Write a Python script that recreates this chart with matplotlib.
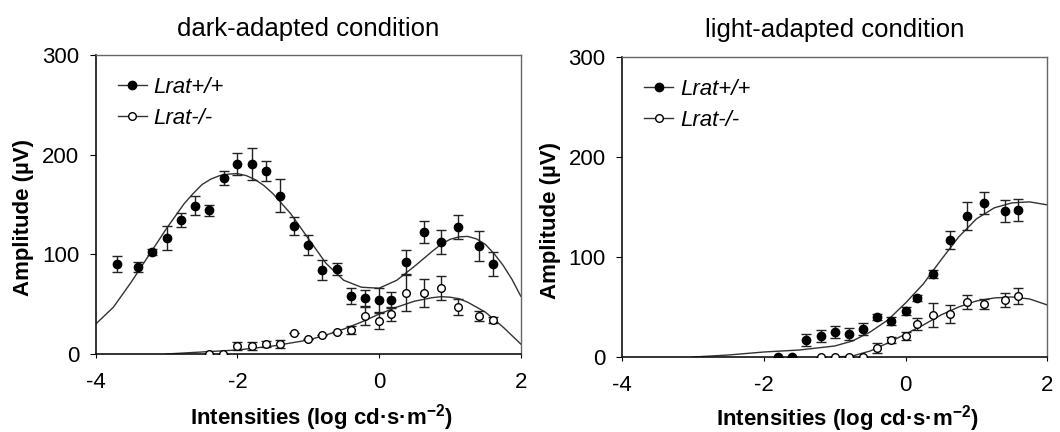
import numpy as np
import matplotlib
matplotlib.use("Agg")
import matplotlib.pyplot as plt
from matplotlib.lines import Line2D

plt.rcParams['font.family'] = ['Liberation Sans', 'DejaVu Sans']
plt.rcParams['mathtext.fontset'] = 'custom'
plt.rcParams['mathtext.rm'] = 'Liberation Sans:bold'
plt.rcParams['mathtext.bf'] = 'Liberation Sans:bold'
plt.rcParams['axes.unicode_minus'] = False

# ─── data ────────────────────────────────────────────────────────────────────
# dark-adapted, Lrat+/+
dark_wt_x = [-3.70, -3.40, -3.20, -3.00, -2.80, -2.60, -2.40, -2.19, -2.00, -1.80,
             -1.60, -1.40, -1.20, -1.00, -0.80, -0.60, -0.40, -0.20, 0.00, 0.17,
             0.38, 0.64, 0.88, 1.12, 1.41, 1.61]
dark_wt_y = [90, 87, 102, 116, 134, 149, 144, 177, 191, 191,
             184, 159, 128, 109, 84, 85, 58, 56, 54, 54,
             92, 122, 112, 127, 108, 90]
dark_wt_e = [8, 5, 3, 12, 7, 10, 6, 7, 11, 16,
             10, 17, 9, 10, 10, 6, 8, 8, 12, 8,
             12, 11, 12, 12, 15, 12]
# dark-adapted, Lrat-/-
dark_ko_x = [-2.40, -2.20, -2.00, -1.80, -1.60, -1.40, -1.20, -1.00, -0.80, -0.60,
             -0.40, -0.20, 0.00, 0.17, 0.38, 0.64, 0.88, 1.12, 1.41, 1.61]
dark_ko_y = [0, 0, 8, 8, 10, 10, 21, 15, 19, 22,
             24, 38, 33, 40, 61, 61, 66, 47, 38, 34]
dark_ko_e = [0, 0, 4, 4, 3, 4, 0, 0, 0, 0,
             4, 9, 8, 7, 18, 14, 12, 8, 5, 3]

# light-adapted, Lrat+/+
light_wt_x = [-1.80, -1.60, -1.40, -1.20, -1.00, -0.80, -0.60, -0.40, -0.20, 0.00,
              0.16, 0.38, 0.62, 0.87, 1.10, 1.40, 1.59]
light_wt_y = [0, 0, 17, 21, 25, 23, 28, 40, 36, 46,
              59, 83, 117, 141, 154, 146, 147]
light_wt_e = [0, 0, 6, 6, 6, 6, 6, 3, 4, 4,
              3, 4, 9, 14, 11, 11, 11]
# light-adapted, Lrat-/-
light_ko_x = [-1.20, -1.00, -0.80, -0.60, -0.40, -0.20, 0.00, 0.16, 0.38, 0.62,
              0.87, 1.10, 1.40, 1.59]
light_ko_y = [0, 0, 0, 0, 9, 17, 21, 33, 42, 43,
              55, 53, 57, 61]
light_ko_e = [0, 0, 0, 0, 5, 3, 4, 6, 12, 9,
              7, 5, 7, 8]

# fitted curves
fit_dark_wt_x = [-4.0, -3.75, -3.5, -3.25, -3.0, -2.75, -2.625, -2.5, -2.375, -2.25,
                 -2.125, -2.0, -1.875, -1.75, -1.625, -1.5, -1.25, -1.0, -0.75, -0.5,
                 -0.25, 0.0, 0.25, 0.5, 0.75, 0.875, 1.0, 1.125, 1.25, 1.375,
                 1.5, 1.625, 1.75, 1.875, 2.0]
fit_dark_wt_y = [30, 47, 72, 99, 126, 151, 161, 170, 175.5, 179,
                 180.5, 181, 179, 175, 169, 161, 141, 116, 91, 74,
                 67, 66, 74, 88, 103, 110, 115, 117.5, 118, 115.5,
                 110, 100.5, 89, 75, 58]
fit_dark_ko_x = [-3.0, -2.75, -2.5, -2.25, -2.0, -1.75, -1.5, -1.25, -1.0, -0.75,
                 -0.5, -0.25, 0.0, 0.25, 0.5, 0.75, 0.875, 1.0, 1.125, 1.25,
                 1.5, 1.75, 2.0]
fit_dark_ko_y = [0, 1, 2, 3, 4, 6, 8, 11, 14, 19,
                 25, 32, 40, 47, 53, 56.5, 57.5, 57, 55.5, 52,
                 42, 27, 10]
fit_light_wt_x = [-3.0, -2.5, -2.0, -1.5, -1.0, -0.75, -0.5, -0.25, 0.0, 0.25,
                  0.5, 0.75, 1.0, 1.25, 1.5, 1.75, 2.0]
fit_light_wt_y = [0, 2, 5, 7, 11, 16, 25, 37, 54, 73,
                  97, 120, 138, 149, 154, 155, 152]
fit_light_ko_x = [-1.0, -0.75, -0.5, -0.25, 0.0, 0.25, 0.5, 0.75, 1.0, 1.25,
                  1.5, 1.75, 2.0]
fit_light_ko_y = [0, 1, 6, 14, 23, 32, 42, 50, 56, 59,
                  60, 58, 52]

TITLES = ['dark-adapted condition', 'light-adapted condition']
LABELS = ['Lrat+/+', 'Lrat-/-']
# ──────────────────────────────────────────────────────────────────────────────

FS = 16
fig = plt.figure(figsize=(10.6, 4.32), dpi=100)
ax1 = fig.add_axes([0.0903, 0.1806, 0.401, 0.692])
ax2 = fig.add_axes([0.587, 0.1736, 0.401, 0.695])

panels = [
    (ax1, (dark_wt_x, dark_wt_y, dark_wt_e), (dark_ko_x, dark_ko_y, dark_ko_e),
     (fit_dark_wt_x, fit_dark_wt_y), (fit_dark_ko_x, fit_dark_ko_y), -0.162),
    (ax2, (light_wt_x, light_wt_y, light_wt_e), (light_ko_x, light_ko_y, light_ko_e),
     (fit_light_wt_x, fit_light_wt_y), (fit_light_ko_x, fit_light_ko_y), -0.152),
]

for i, (ax, wt, ko, fwt, fko, xl_y) in enumerate(panels):
    ax.plot(fwt[0], fwt[1], color='#333333', lw=1.0, zorder=2)
    ax.plot(fko[0], fko[1], color='#333333', lw=1.0, zorder=2)

    ax.errorbar(wt[0], wt[1], yerr=wt[2], fmt='o', ms=6, mfc='black', mec='black',
                ecolor='#222222', elinewidth=1, capsize=3.5, capthick=1, zorder=3)
    ax.errorbar(ko[0], ko[1], yerr=ko[2], fmt='o', ms=5.5, mfc='white', mec='black',
                mew=1, ecolor='#222222', elinewidth=1, capsize=3.5, capthick=1, zorder=4)

    ax.set_xlim(-4, 2)
    ax.set_ylim(0, 300)
    ax.set_xticks([-4, -2, 0, 2])
    ax.set_yticks([0, 100, 200, 300])
    ax.tick_params(axis='x', direction='out', length=3, pad=10, labelsize=FS)
    ax.tick_params(axis='y', direction='out', length=4, pad=8, labelsize=FS)
    for s in ['left', 'bottom']:
        ax.spines[s].set_color('#111111')
        ax.spines[s].set_linewidth(1.2)
    for s in ['top', 'right']:
        ax.spines[s].set_color('#666666')
        ax.spines[s].set_linewidth(1.0)

    ax.set_title(TITLES[i], fontsize=18.5, pad=14)
    ax.set_ylabel('Amplitude (µV)', fontsize=FS, fontweight='bold')
    ax.yaxis.set_label_coords(-0.145, 0.455)
    ax.set_xlabel('Intensities (log cd·s·m$^{-2}$)', fontsize=FS, fontweight='bold')
    ax.xaxis.set_label_coords(0.53, xl_y)

    handles = [
        Line2D([], [], color='#333333', lw=1, marker='o', ms=6, mfc='black', mec='black'),
        Line2D([], [], color='#333333', lw=1, marker='o', ms=5.5, mfc='white', mec='black'),
    ]
    ax.legend(handles, LABELS, loc='upper left', frameon=False,
              prop={'style': 'italic', 'size': FS}, handlelength=1.3,
              handletextpad=0.3, labelspacing=0.45, borderaxespad=0.6,
              bbox_to_anchor=(0.0, 1.0))

fig.savefig('out.png', dpi=100)
